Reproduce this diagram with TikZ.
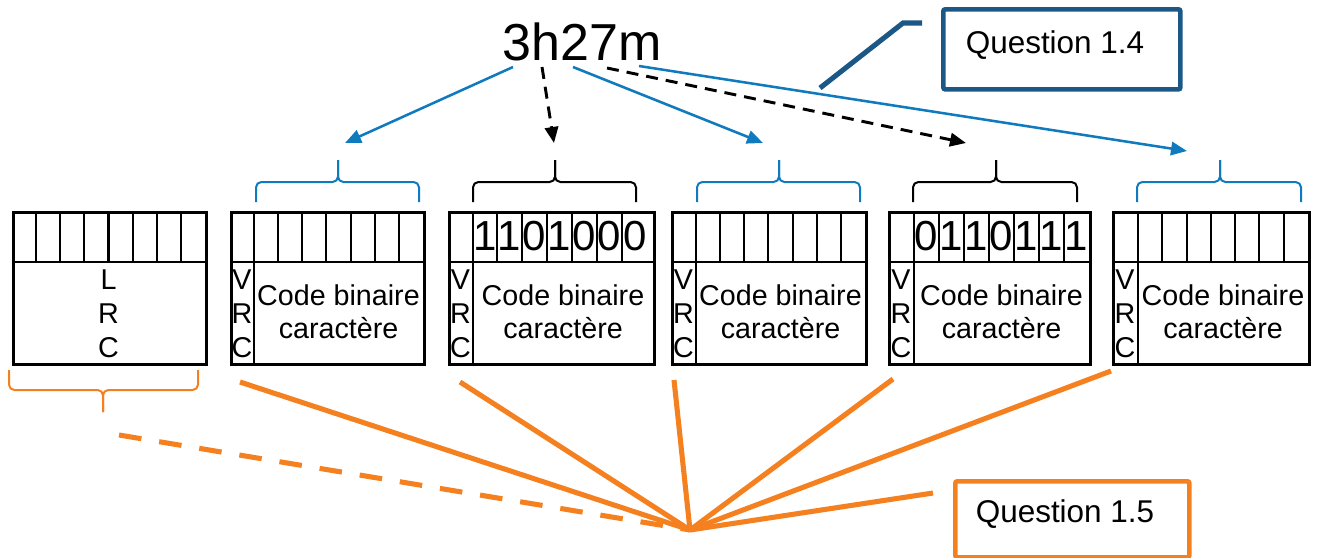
\documentclass[tikz,border=0pt]{standalone}
\usepackage{fontspec}
\setmainfont{Liberation Sans}
\usetikzlibrary{arrows.meta}
\definecolor{cblue}{RGB}{16,122,190}
\definecolor{cdark}{RGB}{27,88,134}
\definecolor{corange}{RGB}{245,128,32}
\tikzset{
  boxst/.style={draw=black, line width=2pt, inner sep=0pt, anchor=north west},
  boxline/.style={draw=black, line width=1.6pt},
  bigtxt/.style={font=\fontsize{21.5pt}{25pt}\selectfont, inner sep=0pt, align=center},
  vtxt/.style={font=\fontsize{21.5pt}{25.5pt}\selectfont, inner sep=0pt, align=center},
  digit/.style={font=\fontsize{31.5pt}{32pt}\selectfont, inner sep=0pt, anchor=base},
  bracest/.style={line width=1.5pt, rounded corners=4pt},
  barrow/.style={draw=cblue, line width=1.9pt, -{Triangle[length=12pt,width=10pt]}},
  karrow/.style={draw=black, line width=2.2pt, dash pattern=on 9pt off 6pt, -{Triangle[length=12pt,width=10pt]}},
  oline/.style={draw=corange, line width=3.8pt},
  qtxt/.style={font=\fontsize{23.6pt}{26pt}\selectfont, inner sep=0pt, anchor=base},
}
\begin{document}
\begin{tikzpicture}[x=0.75pt,y=-0.75pt]
\useasboundingbox (0,0) rectangle (1321,557);

% title
\node[font=\fontsize{39pt}{40pt}\selectfont, inner sep=0pt, anchor=base] (t) at (582,60) {3h27m};

% boxes
\node[boxst, minimum width={193*0.75pt}, minimum height={152*0.75pt}] (b1) at (12,211) {};
\node[boxst, minimum width={193*0.75pt}, minimum height={152*0.75pt}] (b2) at (230,211) {};
\node[boxst, minimum width={205*0.75pt}, minimum height={152*0.75pt}] (b3) at (448,211) {};
\node[boxst, minimum width={194*0.75pt}, minimum height={152*0.75pt}] (b4) at (671,211) {};
\node[boxst, minimum width={201*0.75pt}, minimum height={152*0.75pt}] (b5) at (888,211) {};
\node[boxst, minimum width={196*0.75pt}, minimum height={152*0.75pt}] (b6) at (1112,211) {};

% horizontal dividers
\foreach \l/\r in {12/205,230/423,448/653,671/865,888/1089,1112/1308}
  \draw[boxline] (\l,262) -- (\r,262);
% VRC dividers
\foreach \d in {254,473,696,914,1138}
  \draw[boxline] (\d,211) -- (\d,363);
% column lines
\foreach \c in {36.1,60.3,84.4,108.5,132.6,156.8,180.9,
                278.1,302.3,326.4,350.6,374.7,398.9,
                497,522,547,572,597,622,
                720.1,744.3,768.4,792.6,816.7,840.9,
                939,964,989,1014,1039,1064,
                1162.3,1186.6,1210.9,1235.1,1259.4,1283.7}
  \draw[boxline] (\c,211) -- (\c,262);

% texts in boxes
\node[vtxt] (lrc) at (108.5,314) {L\\R\\C};
\foreach \n/\v/\x in {2/242/338.5,3/460.5/563,4/683.5/780.5,5/901/1001.5,6/1125/1223}{
  \node[vtxt] (v\n) at (\v,314) {V\\R\\C};
  \node[bigtxt] (c\n) at (\x,312) {Code binaire\\caractère};
}

% digits
\foreach \x/\d [count=\i] in {485/1,509.5/1,534.5/0,559.5/1,584.5/0,609.5/0,635/0}
  \node[digit] (da\i) at (\x,250) {\d};
\foreach \x/\d [count=\i] in {926.5/0,951.5/1,976.5/1,1001.5/0,1026.5/1,1051.5/1,1076.5/1}
  \node[digit] (db\i) at (\x,250) {\d};

% braces
\foreach \l/\m/\r/\col in {256/338/419/cblue,473/555/636/black,697/779/860/cblue,913/996/1077/black,1137/1220/1301/cblue}{
  \draw[bracest, draw=\col] (\l,202) -- (\l,182) -- (\m,182) -- (\m,160);
  \draw[bracest, draw=\col] (\r,202) -- (\r,182) -- (\m,182) -- (\m,160);
}
\draw[bracest, draw=corange] (9,370) -- (9,390) -- (103,390) -- (103,412);
\draw[bracest, draw=corange] (198,370) -- (198,390) -- (103,390) -- (103,412);

% arrows from title
\coordinate (s1) at (513,67);  \coordinate (e1) at (345,143);
\coordinate (s2) at (542,67);  \coordinate (e2) at (554,143);
\coordinate (s3) at (573,67);  \coordinate (e3) at (763,143);
\coordinate (s4) at (607,68);  \coordinate (e4) at (966,143);
\coordinate (s5) at (639,66);  \coordinate (e5) at (1187,151);
\draw[barrow] (s1) -- (e1);
\draw[karrow] (s2) -- (e2);
\draw[barrow] (s3) -- (e3);
\draw[karrow] (s4) -- (e4);
\draw[barrow] (s5) -- (e5);

% Question 1.4
\node[draw=cdark, line width=3.5pt, rounded corners=1.5pt, inner sep=0pt, anchor=north west,
      minimum width={237*0.75pt}, minimum height={80*0.75pt}] (q4) at (941,7) {};
\node[qtxt] (q4t) at (1055,53) {Question 1.4};
\coordinate (k1) at (820,88);
\coordinate (k2) at (903,23);
\coordinate (k3) at (922,23);
\draw[draw=cdark, line width=3.8pt] (k1) -- (k2) -- (k3);

% Question 1.5
\node[draw=corange, line width=3.5pt, rounded corners=1.5pt, inner sep=0pt, anchor=north west,
      minimum width={234*0.75pt}, minimum height={76*0.75pt}] (q5) at (953,479) {};
\node[qtxt] (q5t) at (1065,522) {Question 1.5};

% orange lines
\coordinate (cv) at (690,530);
\coordinate (o1) at (240,382);
\coordinate (o2) at (460,382);
\coordinate (o3) at (674,380);
\coordinate (o4) at (893,379);
\coordinate (o5) at (1111,371);
\coordinate (o6) at (933,493);
\coordinate (od) at (119,435);
\foreach \p in {o1,o2,o3,o4,o5,o6}
  \draw[oline] (\p) -- (cv);
\draw[oline, dash pattern=on 17pt off 13.5pt] (od) -- (cv);
\end{tikzpicture}
\end{document}
